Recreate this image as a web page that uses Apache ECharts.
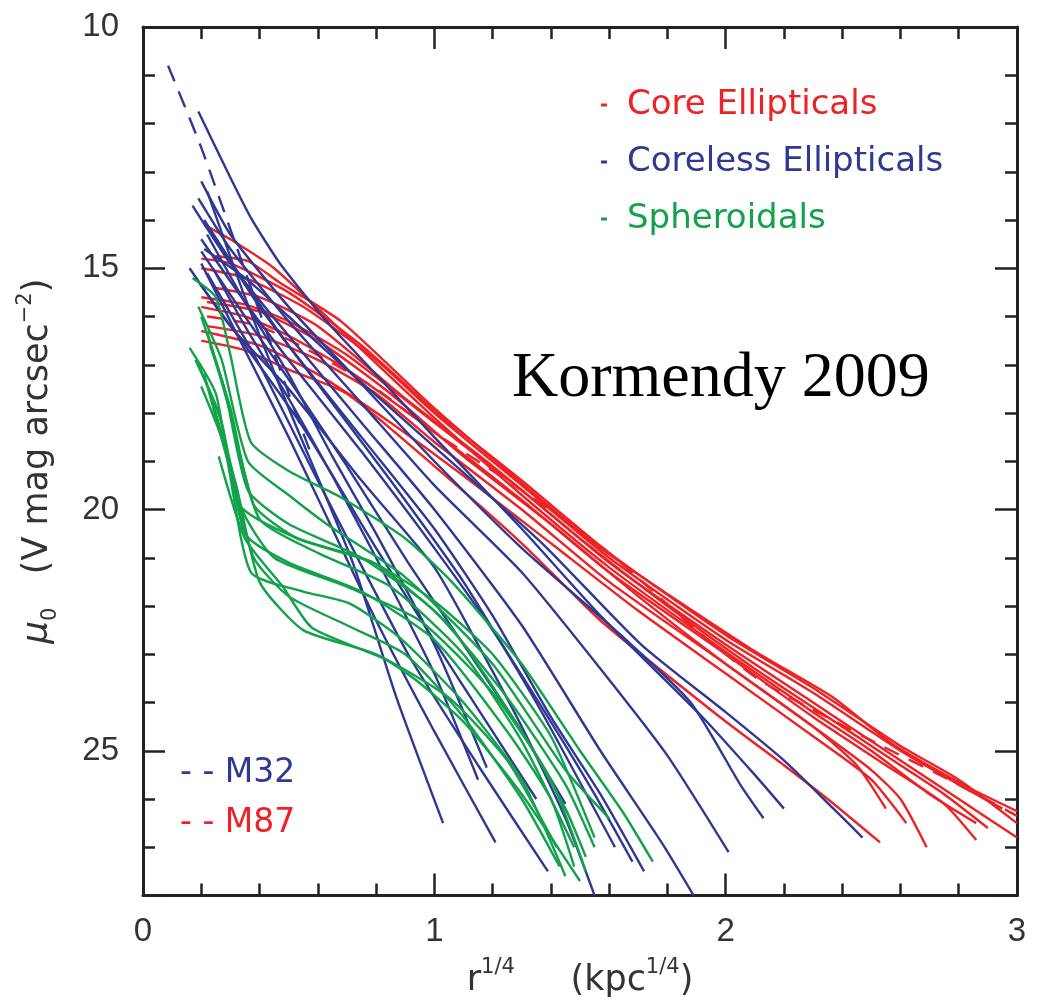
<!DOCTYPE html>
<html>
<head>
<meta charset="utf-8">
<script src="https://cdn.jsdelivr.net/npm/echarts@6/dist/echarts.min.js"></script>
<style>
html, body { margin: 0; padding: 0; background: #fff; }
#chart { width: 1040px; height: 1003px; }
</style>
</head>
<body>
<div id="chart"></div>
<script>
// surface brightness profiles, points are [r^1/4, mu0]
// core ellipticals (red)
var core1 = [[0.25,14.75],[0.36,14.85],[0.47,15.3],[0.68,16.1],[1.0,17.9],[1.25,19.2],[1.57,20.8],[2.09,22.9],[2.37,23.9],[2.57,24.85],[2.83,25.75],[3.0,26.25]];
var core2 = [[0.2,15.6],[0.35,15.75],[0.5,16.1],[0.7,16.8],[1.0,18.2],[1.3,19.6],[1.6,21.1],[2.0,22.8],[2.3,24.0],[2.6,25.2],[2.8,26.0],[3.0,26.8]];
var core3 = [[0.2,15.8],[0.35,16.0],[0.5,16.4],[0.7,17.1],[1.0,18.4],[1.3,19.8],[1.6,21.3],[2.0,23.0],[2.3,24.3],[2.55,25.3],[2.75,26.1],[2.86,26.85]];
var core4 = [[0.22,16.2],[0.4,16.4],[0.6,16.9],[0.8,17.6],[1.0,18.6],[1.3,20.0],[1.6,21.5],[2.0,23.2],[2.3,24.5],[2.5,25.4],[2.6,26.0],[2.69,27.0]];
var core5 = [[0.2,16.5],[0.35,16.7],[0.5,17.1],[0.7,17.6],[1.0,19.1],[1.3,20.7],[1.57,22.3],[1.98,24.3],[2.2,25.3],[2.35,26.0],[2.53,26.9]];
var core6 = [[0.2,15.0],[0.35,15.2],[0.55,15.8],[0.8,16.9],[1.0,18.0],[1.3,19.5],[1.6,21.0],[2.0,22.7],[2.3,23.8],[2.6,25.0],[2.8,25.7],[2.95,26.2]];
var core7 = [[0.21,14.1],[0.3,14.4],[0.45,15.0],[0.7,16.4],[1.0,18.1],[1.3,19.7],[1.6,21.2],[2.0,22.95],[2.3,24.2],[2.5,25.0],[2.7,25.9],[2.86,26.5]];
var core8 = [[0.22,15.7],[0.4,15.9],[0.6,16.5],[0.85,17.6],[1.1,18.9],[1.4,20.3],[1.7,21.8],[2.0,23.2],[2.3,24.5],[2.45,25.3],[2.55,26.2]];
var core9 = [[0.2,16.3],[0.4,16.6],[0.6,17.2],[0.85,18.2],[1.1,19.3],[1.4,20.7],[1.7,22.1],[2.0,23.4],[2.3,24.7],[2.5,25.6],[2.62,26.5]];
var core10 = [[0.24,15.4],[0.4,15.6],[0.6,16.2],[0.9,17.7],[1.2,19.1],[1.5,20.6],[1.8,22.0],[2.1,23.3],[2.4,24.5],[2.6,25.3],[2.75,25.9],[2.9,26.6]];
var core11 = [[0.2,14.8],[0.3,14.9],[0.5,15.5],[0.75,16.6],[1.0,17.95],[1.3,19.4],[1.6,20.9],[2.0,22.6],[2.3,23.7],[2.6,24.9],[2.8,25.6],[3.0,26.5]];
var m87 = [[0.22,16.0],[0.4,16.2],[0.6,16.8],[0.8,17.5],[1.0,18.4],[1.3,19.6],[1.6,20.9],[1.9,22.5],[2.12,23.55],[2.52,24.85],[2.75,25.55],[3.0,26.35]];

// coreless ellipticals (blue)
var cl1 = [[0.19,11.75],[0.29,13.0],[0.37,13.95],[0.47,14.9],[0.63,16.1],[0.8,17.2],[1.0,18.5],[1.3,20.4],[1.57,22.2],[1.92,24.3],[2.1,25.5],[2.2,26.2]];
var cl2 = [[0.21,14.6],[0.35,15.2],[0.5,16.0],[0.7,17.1],[1.0,18.7],[1.37,20.7],[1.71,22.8],[2.0,24.2],[2.2,25.2],[2.37,26.2],[2.47,26.8]];
var cl3 = [[0.2,13.2],[0.3,14.3],[0.5,15.8],[0.75,17.4],[1.0,19.0],[1.3,20.8],[1.64,22.6],[1.88,24.0],[2.05,25.7],[2.13,26.4]];
var cl4 = [[0.19,13.55],[0.3,14.6],[0.5,16.1],[0.75,17.8],[1.0,19.5],[1.3,21.3],[1.57,23.3],[1.8,25.1],[2.01,27.1]];
var cl5 = [[0.17,13.7],[0.3,14.9],[0.5,16.4],[0.75,18.2],[1.0,20.0],[1.3,22.4],[1.57,25.0],[1.78,26.9],[1.89,28.0]];
var cl6 = [[0.21,14.0],[0.35,15.3],[0.5,16.6],[0.75,18.5],[1.0,20.4],[1.2,22.2],[1.4,24.3],[1.57,25.9],[1.72,27.5]];
var cl7 = [[0.2,14.4],[0.35,15.7],[0.5,16.9],[0.75,18.8],[1.0,20.8],[1.2,22.5],[1.4,24.4],[1.55,25.9],[1.68,27.3]];
var cl8 = [[0.16,15.0],[0.3,16.2],[0.5,17.5],[0.75,19.4],[1.0,21.2],[1.15,22.8],[1.3,24.5],[1.45,26.4],[1.55,28.0]];
var cl9 = [[0.2,14.65],[0.35,16.0],[0.5,17.3],[0.7,19.1],[0.91,21.1],[1.1,22.8],[1.3,24.6],[1.45,26.1]];
var cl10 = [[0.22,15.1],[0.4,17.0],[0.6,19.4],[0.91,23.0],[1.15,25.3],[1.39,27.5]];
var cl11 = [[0.2,14.9],[0.35,16.7],[0.5,18.5],[0.65,20.4],[0.8,22.3],[1.0,24.6],[1.21,26.9]];
var cl12 = [[0.22,14.3],[0.35,15.7],[0.5,17.2],[0.65,18.9],[0.8,20.5],[1.0,22.8],[1.18,25.35]];
var cl13 = [[0.24,15.0],[0.35,16.2],[0.5,17.7],[0.65,19.3],[0.8,21.0],[1.0,23.4],[1.15,25.6]];
var cl14 = [[0.23,14.2],[0.4,15.8],[0.6,17.4],[0.85,19.4],[1.1,21.5],[1.35,24.0],[1.62,27.0]];
var cl15 = [[0.18,15.2],[0.35,16.6],[0.55,18.3],[0.8,20.8],[1.05,23.2],[1.35,26.0]];
var cl16 = [[0.22,13.4],[0.35,15.6],[0.5,17.9],[0.72,21.1],[0.87,23.9],[1.03,26.5]];
var m32 = [[0.086,10.8],[0.2,12.5],[0.35,15.05],[0.5,17.6],[0.58,18.9]];

// spheroidals (green)
var sph1 = [[0.17,15.2],[0.25,15.6],[0.3,16.8],[0.37,18.6],[0.5,19.2],[0.68,19.75],[0.9,20.6],[1.06,21.5],[1.3,23.2],[1.5,25.0],[1.65,26.3],[1.75,27.3]];
var sph2 = [[0.19,15.8],[0.27,16.9],[0.36,19.0],[0.5,19.7],[0.63,20.3],[0.9,21.4],[1.2,23.2],[1.45,25.4],[1.6,26.4]];
var sph3 = [[0.16,16.65],[0.25,17.6],[0.33,19.9],[0.53,20.6],[0.79,21.1],[1.05,22.4],[1.3,24.6],[1.45,26.2],[1.52,27.2]];
var sph4 = [[0.19,17.0],[0.27,18.2],[0.35,20.5],[0.5,21.1],[0.75,21.7],[1.0,22.7],[1.25,24.6],[1.4,26.0],[1.48,27.4]];
var sph5 = [[0.2,17.45],[0.28,18.7],[0.37,21.3],[0.55,21.7],[0.71,21.95],[0.88,22.65],[1.1,24.0],[1.3,25.6],[1.45,27.6]];
var sph6 = [[0.26,18.9],[0.35,20.6],[0.48,21.6],[0.58,22.45],[0.83,23.1],[0.94,23.55],[1.1,24.4],[1.3,25.9],[1.5,27.7]];
var sph7 = [[0.2,16.0],[0.28,17.5],[0.36,19.6],[0.5,20.3],[0.75,21.0],[1.0,22.1],[1.25,23.9],[1.45,25.7],[1.55,27.0]];
var sph8 = [[0.22,16.3],[0.3,18.0],[0.4,20.2],[0.6,20.9],[0.85,21.6],[1.1,23.0],[1.3,24.8],[1.48,27.0]];
var sph9 = [[0.18,16.9],[0.26,18.0],[0.34,20.0],[0.45,21.0],[0.7,21.6],[0.95,22.3],[1.2,23.8],[1.4,25.6],[1.52,27.5]];
var sph10 = [[0.24,17.8],[0.32,19.5],[0.4,21.5],[0.55,22.5],[0.8,23.0],[1.05,23.9],[1.25,25.2],[1.42,27.0]];
var sph11 = [[0.23,16.6],[0.3,17.9],[0.38,19.9],[0.53,20.6],[0.79,21.1],[1.0,21.9],[1.2,23.0],[1.4,24.7],[1.55,26.8]];
var sph12 = [[0.21,17.2],[0.3,19.2],[0.38,21.0],[0.5,21.8],[0.7,22.4],[0.9,23.0],[1.1,24.3],[1.3,26.0],[1.43,27.4]];

var coreLines = [core1, core2, core3, core4, core5, core6, core7, core8, core9, core10, core11];
var corelessLines = [cl1, cl2, cl3, cl4, cl5, cl6, cl7, cl8, cl9, cl10, cl11, cl12, cl13, cl14, cl15, cl16];
var sphLines = [sph1, sph2, sph3, sph4, sph5, sph6, sph7, sph8, sph9, sph10, sph11, sph12];

var yLabelValues = [10, 15, 20, 25];

var RED = '#ec2227', BLUE = '#2f3994', GREEN = '#12a24b';
var AX = '#222';

var series = [];
function addLines(lines, name, color, dash) {
    lines.forEach(function (d) {
        series.push({
            type: 'line', name: name, data: d,
            symbol: 'none', smooth: 0.2,
            lineStyle: { color: color, width: 2.4, type: dash || 'solid' },
            itemStyle: { color: color },
            silent: true
        });
    });
}
addLines(coreLines, 'Core Ellipticals', RED);
addLines([m87], 'M87', RED, [16, 11]);
addLines(corelessLines, 'Coreless Ellipticals', BLUE);
addLines([m32], 'M32', BLUE, [17, 11]);
addLines(sphLines, 'Spheroidals', GREEN);

function yAx(pos, interval, len, showLine) {
    return {
        type: 'value', min: 10, max: 28, interval: interval, inverse: true,
        position: pos, offset: 0,
        axisLine: { show: showLine, lineStyle: { color: AX, width: 3 } },
        axisTick: { inside: true, length: len, lineStyle: { color: AX, width: 2.5 } },
        axisLabel: { show: false },
        splitLine: { show: false }
    };
}
var yLeft = yAx('left', 1, 12, true);
yLeft.axisLabel = {
    show: true, margin: 24, fontSize: 33, color: '#333', fontFamily: 'Liberation Sans',
    formatter: function (v) { return yLabelValues.indexOf(v) >= 0 ? String(v) : ''; }
};
yLeft.name = '{mu|μ}{sub|0}{t|   (V mag arcsec}{sup|−2}{t|)}';
yLeft.nameLocation = 'middle';
yLeft.nameRotate = 90;
yLeft.nameGap = 82;
yLeft.nameTextStyle = {
    rich: {
        t: { fontSize: 35, lineHeight: 46, fontFamily: 'DejaVu Sans', color: '#333' },
        mu: { fontSize: 36, lineHeight: 46, fontFamily: 'DejaVu Sans', fontStyle: 'italic', color: '#333' },
        sub: { fontSize: 21, fontFamily: 'DejaVu Sans', color: '#333', verticalAlign: 'bottom' },
        sup: { fontSize: 21, fontFamily: 'DejaVu Sans', color: '#333', verticalAlign: 'top' }
    }
};

function xAx(pos, showLabel) {
    return {
        type: 'value', min: 0, max: 3, interval: 1, position: pos,
        axisLine: { show: true, lineStyle: { color: AX, width: 3 } },
        axisTick: { inside: true, length: 22, lineStyle: { color: AX, width: 2.5 } },
        minorTick: { show: true, splitNumber: 5, length: 12, lineStyle: { color: AX, width: 2.5 } },
        axisLabel: { show: showLabel, margin: 20, fontSize: 33, color: '#333', fontFamily: 'Liberation Sans' },
        splitLine: { show: false }
    };
}
var xBottom = xAx('bottom', true);
xBottom.name = '{t|r}{s|1/4}{t|     (kpc}{s|1/4}{t|)}';
xBottom.nameLocation = 'middle';
xBottom.nameGap = 62;
xBottom.nameTextStyle = {
    rich: {
        t: { fontSize: 35, lineHeight: 46, fontFamily: 'DejaVu Sans', color: '#333' },
        s: { fontSize: 21, fontFamily: 'DejaVu Sans', color: '#333', verticalAlign: 'top' }
    }
};

var chart = echarts.init(document.getElementById('chart'), null, { renderer: 'canvas' });
chart.setOption({
    animation: false,
    backgroundColor: '#fff',
    grid: { left: 143, right: 23, top: 27, bottom: 107, containLabel: false },
    xAxis: [xBottom, xAx('top', false)],
    yAxis: [yLeft, yAx('left', 5, 22, false), yAx('right', 1, 12, true), yAx('right', 5, 22, false)],
    legend: {
        orient: 'vertical', left: 596, top: 83, itemGap: 23,
        icon: 'rect', itemWidth: 6, itemHeight: 3,
        selectedMode: false,
        textStyle: { fontSize: 34, fontFamily: 'DejaVu Sans', padding: [0, 0, 0, 15] },
        data: [
            { name: 'Core Ellipticals', textStyle: { color: RED } },
            { name: 'Coreless Ellipticals', textStyle: { color: BLUE } },
            { name: 'Spheroidals', textStyle: { color: GREEN } }
        ]
    },
    graphic: [
        {
            type: 'text', x: 512, y: 379, silent: true,
            style: { text: 'Kormendy 2009', fontSize: 64, fontFamily: 'Liberation Serif', fill: '#000', verticalAlign: 'middle', align: 'left' }
        },
        {
            type: 'text', x: 180, y: 773, silent: true,
            style: { text: '{d|- -} M32', fill: BLUE, verticalAlign: 'middle', align: 'left',
                rich: { d: { fontSize: 33, fontFamily: 'DejaVu Sans', fill: BLUE } },
                fontSize: 33, fontFamily: 'DejaVu Sans' }
        },
        {
            type: 'text', x: 180, y: 823, silent: true,
            style: { text: '{d|- -} M87', fill: RED, verticalAlign: 'middle', align: 'left',
                rich: { d: { fontSize: 33, fontFamily: 'DejaVu Sans', fill: RED } },
                fontSize: 33, fontFamily: 'DejaVu Sans' }
        }
    ],
    series: series
});
</script>
</body>
</html>
